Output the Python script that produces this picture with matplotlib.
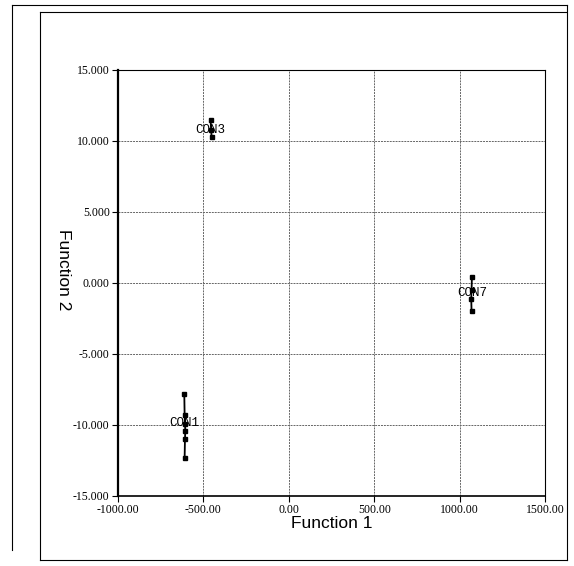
import matplotlib
matplotlib.use("Agg")
import matplotlib.pyplot as plt
from matplotlib.lines import Line2D
from matplotlib.ticker import FormatStrFormatter

# group cases (function 1, function 2)
con1_x = [-612, -610, -608, -606, -608, -610]
con1_y = [-7.8, -9.3, -9.9, -10.4, -11.0, -12.3]
con3_x = [-458, -455, -452]
con3_y = [11.5, 10.8, 10.3]
con7_x = [1072, 1070, 1068, 1070]
con7_y = [0.4, -0.5, -1.1, -2.0]

groups = ["CON1", "CON3", "CON7"]
label_pos = [(-615, -9.85), (-460, 10.75), (1075, -0.7)]

xticks = [-1000, -500, 0, 500, 1000, 1500]
yticks = [-15, -10, -5, 0, 5, 10, 15]

fig = plt.figure(figsize=(5.74, 5.66), dpi=100)
ax = fig.add_axes([0.2056, 0.1237, 0.7439, 0.7527])

for xs, ys in [(con1_x, con1_y), (con3_x, con3_y), (con7_x, con7_y)]:
    ax.plot(xs, ys, color="black", lw=1.3, marker="s", ms=2.5, zorder=3)

for name, (lx, ly) in zip(groups, label_pos):
    ax.text(lx, ly, name, family="Liberation Mono", fontsize=9, ha="center",
            va="center", zorder=4)

ax.set_xlim(-1000, 1500)
ax.set_ylim(-15, 15)
ax.set_xticks(xticks)
ax.set_yticks(yticks)
ax.xaxis.set_major_formatter(FormatStrFormatter("%.2f"))
ax.yaxis.set_major_formatter(FormatStrFormatter("%.3f"))
ax.grid(True, color="#666666", lw=0.7, ls=(0, (2, 1)))
ax.tick_params(length=4, width=0.8, labelsize=8.5, direction="out", pad=2)
for lab in ax.get_xticklabels() + ax.get_yticklabels():
    lab.set_family("Liberation Serif")
for s in ax.spines.values():
    s.set_linewidth(0.8)
ax.spines["left"].set_linewidth(1.6)
ax.spines["bottom"].set_linewidth(1.2)

ax.set_xlabel("Function 1", family="Liberation Sans", fontsize=12.5, labelpad=0)
fig.text(63/574, 0.523, "Function 2", family="Liberation Sans", fontsize=12.5,
         rotation=-90, ha="center", va="center")

# page frame lines
fig.add_artist(Line2D([12/574, 567/574], [1-5/566, 1-5/566], color="black", lw=0.8))
fig.add_artist(Line2D([12/574, 12/574], [1-5/566, 1-550/566], color="black", lw=0.8))
fig.add_artist(Line2D([40/574, 566/574], [1-12/566, 1-12/566], color="black", lw=0.8))
fig.add_artist(Line2D([40/574, 40/574], [1-12/566, 1-560/566], color="black", lw=0.8))
fig.add_artist(Line2D([567/574, 567/574], [1-5/566, 1-560/566], color="black", lw=0.8))
fig.add_artist(Line2D([40/574, 567/574], [1-560/566, 1-560/566], color="black", lw=0.8))

fig.savefig("out.png", dpi=100)
